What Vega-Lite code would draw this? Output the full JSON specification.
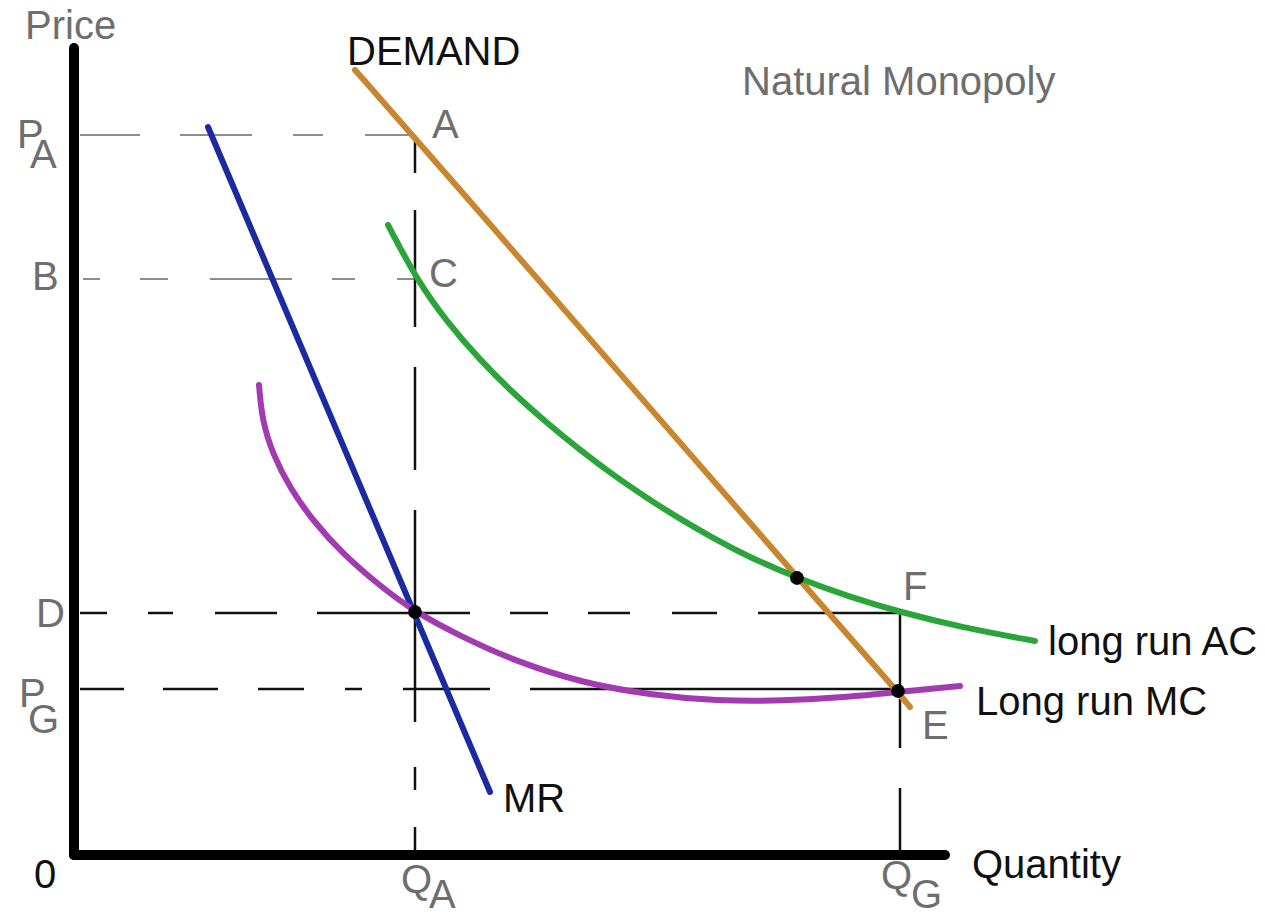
{
  "$schema": "https://vega.github.io/schema/vega-lite/v6.json",
  "width": 1265,
  "height": 918,
  "autosize": "none",
  "padding": 0,
  "background": "white",
  "config": {"view": {"stroke": null}},
  "datasets": {
    "curves": [
      {"curve": "Demand", "q": 280, "p": 785},
      {"curve": "Demand", "q": 340, "p": 717},
      {"curve": "Demand", "q": 722, "p": 278},
      {"curve": "Demand", "q": 822, "p": 164},
      {"curve": "Demand", "q": 835, "p": 148},
      {"curve": "MR", "q": 133, "p": 728},
      {"curve": "MR", "q": 415, "p": 63},
      {"curve": "AC", "q": 313, "p": 630},
      {"curve": "AC", "q": 342, "p": 575},
      {"curve": "AC", "q": 372, "p": 533},
      {"curve": "AC", "q": 405, "p": 495},
      {"curve": "AC", "q": 438, "p": 462},
      {"curve": "AC", "q": 472, "p": 432},
      {"curve": "AC", "q": 505, "p": 405},
      {"curve": "AC", "q": 538, "p": 380},
      {"curve": "AC", "q": 572, "p": 357},
      {"curve": "AC", "q": 605, "p": 336},
      {"curve": "AC", "q": 638, "p": 317},
      {"curve": "AC", "q": 672, "p": 299},
      {"curve": "AC", "q": 722, "p": 277},
      {"curve": "AC", "q": 775, "p": 258},
      {"curve": "AC", "q": 825, "p": 243},
      {"curve": "AC", "q": 885, "p": 228},
      {"curve": "AC", "q": 960, "p": 214},
      {"curve": "MC", "q": 184, "p": 470},
      {"curve": "MC", "q": 187, "p": 435},
      {"curve": "MC", "q": 198, "p": 400},
      {"curve": "MC", "q": 215, "p": 367},
      {"curve": "MC", "q": 238, "p": 334},
      {"curve": "MC", "q": 268, "p": 301},
      {"curve": "MC", "q": 305, "p": 269},
      {"curve": "MC", "q": 340, "p": 243},
      {"curve": "MC", "q": 385, "p": 219},
      {"curve": "MC", "q": 442, "p": 193},
      {"curve": "MC", "q": 508, "p": 172},
      {"curve": "MC", "q": 575, "p": 160},
      {"curve": "MC", "q": 642, "p": 154},
      {"curve": "MC", "q": 708, "p": 154},
      {"curve": "MC", "q": 775, "p": 158},
      {"curve": "MC", "q": 822, "p": 163},
      {"curve": "MC", "q": 885, "p": 169}
    ],
    "guides": [
      {"line": "PA", "q1": 5, "q2": 65, "p1": 720, "p2": 720},
      {"line": "PA", "q1": 105, "q2": 177, "p1": 720, "p2": 720},
      {"line": "PA", "q1": 218, "q2": 248, "p1": 720, "p2": 720},
      {"line": "PA", "q1": 290, "q2": 340, "p1": 720, "p2": 720},
      {"line": "B", "q1": 8, "q2": 25, "p1": 576, "p2": 576},
      {"line": "B", "q1": 65, "q2": 93, "p1": 576, "p2": 576},
      {"line": "B", "q1": 135, "q2": 217, "p1": 576, "p2": 576},
      {"line": "B", "q1": 257, "q2": 280, "p1": 576, "p2": 576},
      {"line": "B", "q1": 322, "q2": 340, "p1": 576, "p2": 576},
      {"line": "QA", "q1": 340, "q2": 340, "p1": 720, "p2": 682},
      {"line": "QA", "q1": 340, "q2": 340, "p1": 645, "p2": 528},
      {"line": "QA", "q1": 340, "q2": 340, "p1": 488, "p2": 385},
      {"line": "QA", "q1": 340, "q2": 340, "p1": 345, "p2": 133},
      {"line": "QA", "q1": 340, "q2": 340, "p1": 88, "p2": 65},
      {"line": "QA", "q1": 340, "q2": 340, "p1": 28, "p2": 0},
      {"line": "D", "q1": 5, "q2": 32, "p1": 242, "p2": 242},
      {"line": "D", "q1": 73, "q2": 98, "p1": 242, "p2": 242},
      {"line": "D", "q1": 140, "q2": 202, "p1": 242, "p2": 242},
      {"line": "D", "q1": 242, "q2": 395, "p1": 242, "p2": 242},
      {"line": "D", "q1": 435, "q2": 473, "p1": 242, "p2": 242},
      {"line": "D", "q1": 513, "q2": 555, "p1": 242, "p2": 242},
      {"line": "D", "q1": 597, "q2": 642, "p1": 242, "p2": 242},
      {"line": "D", "q1": 683, "q2": 825, "p1": 242, "p2": 242},
      {"line": "PG", "q1": 5, "q2": 49, "p1": 166, "p2": 166},
      {"line": "PG", "q1": 88, "q2": 143, "p1": 166, "p2": 166},
      {"line": "PG", "q1": 183, "q2": 229, "p1": 166, "p2": 166},
      {"line": "PG", "q1": 270, "q2": 287, "p1": 166, "p2": 166},
      {"line": "PG", "q1": 328, "q2": 415, "p1": 166, "p2": 166},
      {"line": "PG", "q1": 455, "q2": 823, "p1": 166, "p2": 166},
      {"line": "QG", "q1": 825, "q2": 825, "p1": 243, "p2": 107},
      {"line": "QG", "q1": 825, "q2": 825, "p1": 67, "p2": 0}
    ],
    "axes": [
      {"axis": "Price", "q1": -1, "q2": -1, "p1": 0, "p2": 807},
      {"axis": "Quantity", "q1": -1, "q2": 870, "p1": 0, "p2": 0}
    ],
    "points": [
      {"point": "MR = MC", "q": 340, "p": 243},
      {"point": "AC = Demand", "q": 722, "p": 277},
      {"point": "E", "q": 823, "p": 164}
    ],
    "labels": [
      {"text": "Price", "role": "axis", "q": -50, "p": 816},
      {"text": "DEMAND", "role": "curve", "q": 272, "p": 790},
      {"text": "Natural Monopoly", "role": "title", "q": 667, "p": 760},
      {"text": "P", "role": "axis", "q": -58, "p": 707},
      {"text": "A", "role": "axis", "q": -45, "p": 687},
      {"text": "A", "role": "point", "q": 357, "p": 717},
      {"text": "B", "role": "axis", "q": -43, "p": 565},
      {"text": "C", "role": "point", "q": 354, "p": 568},
      {"text": "D", "role": "axis", "q": -39, "p": 228},
      {"text": "P", "role": "axis", "q": -56, "p": 148},
      {"text": "G", "role": "axis", "q": -47, "p": 122},
      {"text": "F", "role": "point", "q": 828, "p": 255},
      {"text": "E", "role": "point", "q": 847, "p": 116},
      {"text": "long run AC", "role": "curve", "q": 973, "p": 200},
      {"text": "Long run MC", "role": "curve", "q": 901, "p": 140},
      {"text": "MR", "role": "curve", "q": 428, "p": 43},
      {"text": "Quantity", "role": "curve", "q": 897, "p": -23},
      {"text": "0", "role": "origin", "q": -41, "p": -33},
      {"text": "Q", "role": "axis", "q": 326, "p": -38},
      {"text": "A", "role": "axis", "q": 354, "p": -53},
      {"text": "Q", "role": "axis", "q": 806, "p": -34},
      {"text": "G", "role": "axis", "q": 836, "p": -53}
    ]
  },
  "encoding": {
    "x": {"field": "q", "type": "quantitative", "scale": {"domain": [-75, 1190], "nice": false, "zero": false}, "axis": null},
    "y": {"field": "p", "type": "quantitative", "scale": {"domain": [-63, 855], "nice": false, "zero": false}, "axis": null}
  },
  "layer": [
    {
      "data": {"name": "guides"},
      "transform": [{"filter": "datum.line === 'PA' || datum.line === 'B'"}],
      "mark": {"type": "rule", "color": "#8c8c8c", "strokeWidth": 2},
      "encoding": {
        "x": {"field": "q1", "type": "quantitative"},
        "x2": {"field": "q2"},
        "y": {"field": "p1", "type": "quantitative"},
        "y2": {"field": "p2"}
      }
    },
    {
      "data": {"name": "guides"},
      "transform": [{"filter": "datum.line !== 'PA' && datum.line !== 'B'"}],
      "mark": {"type": "rule", "color": "#111111", "strokeWidth": 2.5},
      "encoding": {
        "x": {"field": "q1", "type": "quantitative"},
        "x2": {"field": "q2"},
        "y": {"field": "p1", "type": "quantitative"},
        "y2": {"field": "p2"}
      }
    },
    {
      "data": {"name": "axes"},
      "mark": {"type": "rule", "color": "#000000", "strokeWidth": 10, "strokeCap": "round"},
      "encoding": {
        "x": {"field": "q1", "type": "quantitative"},
        "x2": {"field": "q2"},
        "y": {"field": "p1", "type": "quantitative"},
        "y2": {"field": "p2"}
      }
    },
    {
      "data": {"name": "curves"},
      "mark": {"type": "line", "interpolate": "basis", "strokeWidth": 6, "strokeCap": "round"},
      "encoding": {
        "color": {
          "field": "curve",
          "type": "nominal",
          "scale": {"domain": ["Demand", "MR", "AC", "MC"], "range": ["#c8862e", "#1b2a9e", "#2aa539", "#a23bb0"]},
          "legend": null
        },
        "detail": {"field": "curve"}
      }
    },
    {
      "data": {"name": "points"},
      "mark": {"type": "point", "shape": "circle", "filled": true, "color": "#000000", "size": 190, "opacity": 1}
    },
    {
      "data": {"name": "labels"},
      "transform": [{"filter": "datum.role === 'axis' || datum.role === 'point' || datum.role === 'title'"}],
      "mark": {"type": "text", "align": "left", "baseline": "alphabetic", "font": "Liberation Sans", "fontSize": 40, "color": "#6e6e6e"},
      "encoding": {"text": {"field": "text"}}
    },
    {
      "data": {"name": "labels"},
      "transform": [{"filter": "datum.role === 'curve' || datum.role === 'origin'"}],
      "mark": {"type": "text", "align": "left", "baseline": "alphabetic", "font": "Liberation Sans", "fontSize": 40, "color": "#111111"},
      "encoding": {"text": {"field": "text"}}
    }
  ]
}
